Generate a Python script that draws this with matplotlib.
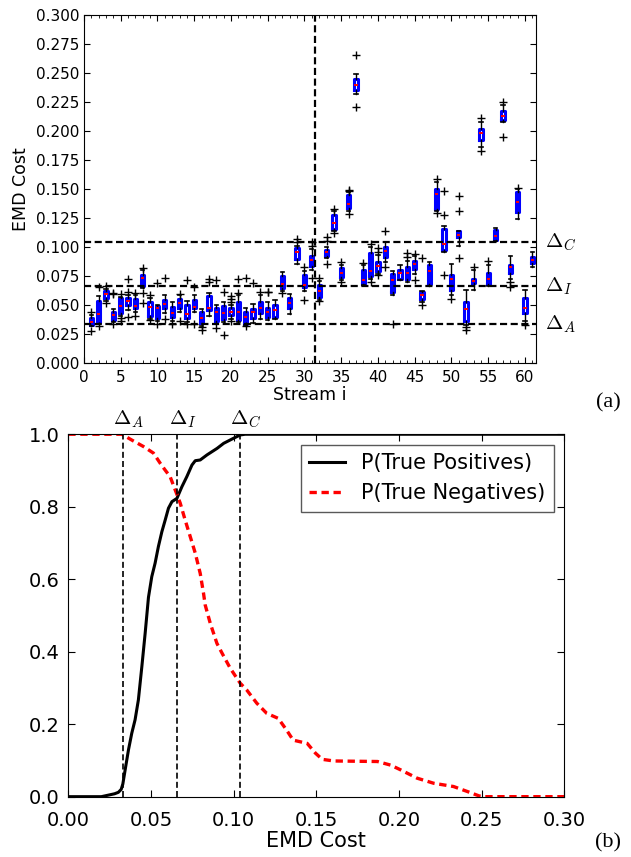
import matplotlib
matplotlib.use("Agg")
import matplotlib.pyplot as plt
import matplotlib.transforms as mtransforms
from matplotlib.ticker import MultipleLocator, FormatStrFormatter

plt.rcParams["font.family"] = ["DejaVu Sans"]
plt.rcParams["mathtext.fontset"] = "cm"

# thresholds Delta_A, Delta_I, Delta_C
thr_names = [r"$\Delta_A$", r"$\Delta_I$", r"$\Delta_C$"]
thr_values = [0.033, 0.066, 0.104]
split_stream = 31.5

# per-stream box statistics (panel a)
streams = list(range(1, 62))
q1 = [0.0327, 0.0341, 0.0554, 0.0364, 0.0426, 0.0497, 0.0474, 0.0662, 0.0406, 0.0384,
      0.0474, 0.0398, 0.0474, 0.0384, 0.0469, 0.0341, 0.0455, 0.0361, 0.0378, 0.0412,
      0.0369, 0.0332, 0.0384, 0.0426, 0.0398, 0.0398, 0.0645, 0.0469, 0.0895, 0.0653,
      0.0832, 0.0563, 0.0923, 0.1156, 0.0739, 0.1335, 0.2350, 0.0682, 0.0747, 0.0787,
      0.0909, 0.0605, 0.0724, 0.0724, 0.0804, 0.0548, 0.0682, 0.1321, 0.0974, 0.0625,
      0.1080, 0.0361, 0.0690, 0.1918, 0.0682, 0.1060, 0.2094, 0.0773, 0.1298, 0.0426,
      0.0861]
med = [0.0347, 0.0418, 0.0588, 0.0412, 0.0491, 0.0534, 0.0489, 0.0730, 0.0483, 0.0469,
       0.0503, 0.0426, 0.0511, 0.0418, 0.0483, 0.0389, 0.0474, 0.0440, 0.0426, 0.0440,
       0.0435, 0.0398, 0.0440, 0.0474, 0.0435, 0.0455, 0.0682, 0.0511, 0.0957, 0.0668,
       0.0881, 0.0614, 0.0952, 0.1207, 0.0773, 0.1364, 0.2395, 0.0710, 0.0787, 0.0832,
       0.0966, 0.0710, 0.0776, 0.0776, 0.0852, 0.0582, 0.0787, 0.1457, 0.1023, 0.0719,
       0.1102, 0.0463, 0.0707, 0.1983, 0.0724, 0.1088, 0.2130, 0.0821, 0.1386, 0.0469,
       0.0886]
q3 = [0.0389, 0.0531, 0.0617, 0.0440, 0.0554, 0.0554, 0.0545, 0.0759, 0.0520, 0.0491,
      0.0540, 0.0483, 0.0548, 0.0497, 0.0540, 0.0435, 0.0577, 0.0474, 0.0491, 0.0469,
      0.0526, 0.0440, 0.0463, 0.0526, 0.0469, 0.0497, 0.0747, 0.0554, 0.0986, 0.0753,
      0.0923, 0.0668, 0.0974, 0.1270, 0.0815, 0.1449, 0.2443, 0.0795, 0.0946, 0.0866,
      0.0994, 0.0767, 0.0795, 0.0824, 0.0880, 0.0605, 0.0838, 0.1497, 0.1150, 0.0753,
      0.1136, 0.0526, 0.0724, 0.2017, 0.0776, 0.1146, 0.2173, 0.0844, 0.1469, 0.0560,
      0.0909]
whis_lo = [0.0312, 0.0330, 0.0531, 0.0350, 0.0400, 0.0455, 0.0440, 0.0640, 0.0380, 0.0360,
           0.0430, 0.0360, 0.0440, 0.0350, 0.0440, 0.0320, 0.0400, 0.0330, 0.0350, 0.0380,
           0.0350, 0.0325, 0.0340, 0.0380, 0.0370, 0.0380, 0.0620, 0.0420, 0.0850, 0.0620,
           0.0800, 0.0540, 0.0900, 0.1136, 0.0716, 0.1310, 0.2315, 0.0670, 0.0719, 0.0767,
           0.0866, 0.0580, 0.0710, 0.0696, 0.0767, 0.0520, 0.0660, 0.1307, 0.0950, 0.0580,
           0.1009, 0.0327, 0.0625, 0.1861, 0.0660, 0.1045, 0.2074, 0.0719, 0.1236, 0.0355,
           0.0824]
whis_hi = [0.0412, 0.0577, 0.0639, 0.0460, 0.0570, 0.0580, 0.0580, 0.0795, 0.0560, 0.0500,
           0.0580, 0.0520, 0.0580, 0.0530, 0.0580, 0.0460, 0.0600, 0.0500, 0.0520, 0.0500,
           0.0580, 0.0470, 0.0510, 0.0580, 0.0520, 0.0540, 0.0780, 0.0590, 0.1010, 0.0790,
           0.0980, 0.0700, 0.1000, 0.1304, 0.0840, 0.1470, 0.2490, 0.0838, 0.1000, 0.0929,
           0.1040, 0.0790, 0.0838, 0.0880, 0.0920, 0.0620, 0.0866, 0.1560, 0.1180, 0.0852,
           0.1136, 0.0625, 0.0795, 0.2074, 0.0840, 0.1160, 0.2225, 0.0918, 0.1497, 0.0625,
           0.0952]
outliers = [
    [0.0440, 0.0276], [0.0655, 0.0320], [0.0659, 0.0511], [0.0590, 0.0600, 0.0330],
    [0.0588, 0.0384, 0.0355], [0.0724, 0.0605, 0.0390], [0.0597, 0.0404],
    [0.0818, 0.0602, 0.0511], [0.0580, 0.0370], [0.0688, 0.0333], [0.0730, 0.0380],
    [0.0333], [0.0588, 0.0360], [0.0710, 0.0330], [0.0650, 0.0333], [0.0310, 0.0278],
    [0.0724, 0.0696], [0.0710, 0.0300], [0.0605, 0.0241], [0.0577, 0.0550, 0.0526, 0.0355],
    [0.0724, 0.0602], [0.0730, 0.0320], [0.0690], [0.0610], [0.0610, 0.0605], [],
    [0.0600], [], [0.1070, 0.1040], [0.0824, 0.0540], [0.1037, 0.1010, 0.0730],
    [0.0730, 0.0530], [0.1080, 0.1050, 0.0850], [0.1321, 0.1120], [0.0866, 0.0696],
    [0.1490, 0.1478, 0.1278], [0.2648, 0.2207], [0.0860], [0.1023, 0.0696],
    [0.0986, 0.0957, 0.0753], [0.1136, 0.0824], [0.0335], [], [0.0946, 0.0909],
    [0.0935, 0.0710], [0.0901, 0.0497], [], [0.1583, 0.1290], [0.1477, 0.1270, 0.0753],
    [0.0548], [0.1435, 0.1307, 0.0901], [0.0310, 0.0284], [0.0824], [0.2108, 0.1827],
    [0.0880], [], [0.2250, 0.1946], [0.0696, 0.0653], [0.1510], [0.0327], [],
]

# CDF curves (panel b)
tp_cost = [0.0, 0.020, 0.025, 0.028, 0.0303, 0.032, 0.033, 0.0344, 0.0364, 0.0384,
           0.0404, 0.0424, 0.0445, 0.0465, 0.0485, 0.0505, 0.0525, 0.0545, 0.0566, 0.0586,
           0.0606, 0.0627, 0.0657, 0.0687, 0.0717, 0.0748, 0.0768, 0.0798, 0.0839, 0.090,
           0.094, 0.100, 0.104, 0.107, 0.30]
tp_prob = [0.0, 0.0, 0.005, 0.008, 0.012, 0.02, 0.035, 0.074, 0.129, 0.175,
           0.212, 0.267, 0.359, 0.451, 0.55, 0.607, 0.644, 0.69, 0.731, 0.763,
           0.796, 0.814, 0.823, 0.855, 0.883, 0.915, 0.927, 0.929, 0.943, 0.961,
           0.975, 0.989, 0.998, 1.0, 1.0]
tn_cost = [0.0, 0.0324, 0.0384, 0.0455, 0.0515, 0.0556, 0.0586, 0.0616, 0.0647, 0.0677,
           0.0707, 0.0738, 0.0768, 0.0798, 0.0818, 0.0828, 0.0859, 0.0899, 0.093, 0.098,
           0.104, 0.108, 0.114, 0.120, 0.127, 0.132, 0.136, 0.1445, 0.1495, 0.1536,
           0.1606, 0.187, 0.195, 0.201, 0.211, 0.221, 0.233, 0.2415, 0.2485, 0.252, 0.30]
tn_prob = [1.0, 1.0, 0.984, 0.966, 0.948, 0.920, 0.901, 0.883, 0.846, 0.810,
           0.763, 0.717, 0.672, 0.616, 0.561, 0.529, 0.478, 0.423, 0.396, 0.354,
           0.313, 0.294, 0.258, 0.230, 0.216, 0.184, 0.156, 0.147, 0.120, 0.103,
           0.0985, 0.097, 0.087, 0.074, 0.051, 0.037, 0.028, 0.014, 0.002, 0.0, 0.0]

fig = plt.figure(figsize=(6.31, 8.57), dpi=100)
ax1 = fig.add_axes([0.1331, 0.5768, 0.7163, 0.4061])
ax2 = fig.add_axes([0.1082, 0.0704, 0.7861, 0.4229])

# ---- panel (a): box plots per stream
stats = []
for s, a, m, b, lo, hi, fl in zip(streams, q1, med, q3, whis_lo, whis_hi, outliers):
    stats.append(dict(label=str(s), q1=a, med=m, q3=b, whislo=lo, whishi=hi, fliers=fl))

ax1.bxp(stats, positions=streams, widths=0.45, capwidths=0.45, manage_ticks=False,
        boxprops=dict(color="blue", linewidth=2.2),
        medianprops=dict(color="red", linewidth=1.4),
        whiskerprops=dict(color="black", linewidth=1.0),
        capprops=dict(color="black", linewidth=1.2),
        flierprops=dict(marker="+", markeredgecolor="black", markersize=6,
                        markeredgewidth=1.0, linestyle="none"))

for t in thr_values:
    ax1.axhline(t, color="black", linestyle=(0, (3.2, 1.6)), linewidth=1.6)
ax1.axvline(split_stream, color="black", linestyle=(0, (3.2, 1.6)), linewidth=1.6)

ax1.set_xlim(0, 61.5)
ax1.set_ylim(0, 0.3)
ax1.xaxis.set_major_locator(MultipleLocator(5))
ax1.xaxis.set_minor_locator(MultipleLocator(1))
ax1.yaxis.set_major_locator(MultipleLocator(0.025))
ax1.yaxis.set_major_formatter(FormatStrFormatter("%.3f"))
ax1.tick_params(which="both", direction="in", top=True, right=True, labelsize=11)
ax1.tick_params(which="major", length=4)
ax1.tick_params(which="minor", length=2)
ax1.tick_params(axis="x", pad=5)
ax1.set_xlabel("Stream i", fontsize=12.5, labelpad=1)
ax1.set_ylabel("EMD Cost", fontsize=12.5, labelpad=4)

trans1 = mtransforms.blended_transform_factory(ax1.transAxes, ax1.transData)
for name, t in zip(thr_names, thr_values):
    ax1.text(1.02, t, name, transform=trans1, ha="left", va="center", fontsize=15)

# ---- panel (b): CDFs
ax2.plot(tp_cost, tp_prob, color="black", linewidth=2.2, label="P(True Positives)")
ax2.plot(tn_cost, tn_prob, color="red", linewidth=2.4, linestyle=(0, (2.2, 1.4)),
         label="P(True Negatives)")
for t in thr_values:
    ax2.axvline(t, color="black", linestyle=(0, (3.6, 1.9)), linewidth=1.2)

trans2 = mtransforms.blended_transform_factory(ax2.transData, ax2.transAxes)
for name, t in zip(thr_names, thr_values):
    ax2.text(t + 0.0035, 1.012, name, transform=trans2, ha="center", va="bottom",
             fontsize=15)

ax2.set_xlim(0, 0.3)
ax2.set_ylim(0, 1.0)
ax2.xaxis.set_major_locator(MultipleLocator(0.05))
ax2.yaxis.set_major_locator(MultipleLocator(0.2))
ax2.xaxis.set_major_formatter(FormatStrFormatter("%.2f"))
ax2.yaxis.set_major_formatter(FormatStrFormatter("%.1f"))
ax2.tick_params(direction="in", top=True, right=True, length=5, labelsize=14)
ax2.tick_params(axis="x", pad=10)
ax2.tick_params(axis="y", pad=6)
ax2.set_xlabel("EMD Cost", fontsize=15, labelpad=1)
leg = ax2.legend(loc="upper right", fontsize=15, handlelength=1.7, borderaxespad=0.5,
                 fancybox=False, framealpha=1)
leg.get_frame().set_edgecolor("0.35")

fig.text(0.9635, 1 - 402.7 / 857, "(a)", family="Liberation Serif", fontsize=16,
         ha="center", va="center")
fig.text(0.9635, 1 - 843 / 857, "(b)", family="Liberation Serif", fontsize=16,
         ha="center", va="center")

fig.savefig("out.png", dpi=100)
